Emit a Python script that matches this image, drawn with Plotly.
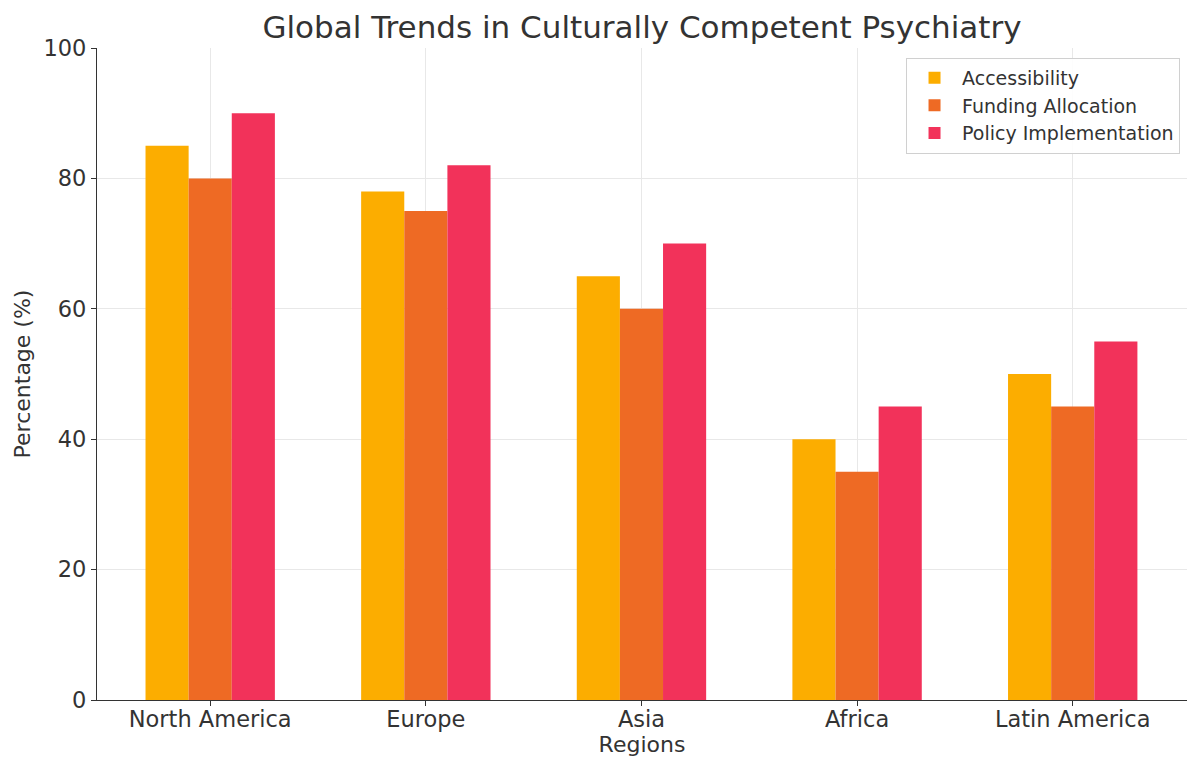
import plotly.graph_objects as go

regions = ["North America", "Europe", "Asia", "Africa", "Latin America"]
accessibility = [85, 78, 65, 40, 50]
funding = [80, 75, 60, 35, 45]
policy = [90, 82, 70, 45, 55]

series_names = ["Accessibility", "Funding Allocation", "Policy Implementation"]
colors = ["#FCAD00", "#EE6A24", "#F2325A"]

fig = go.Figure()
for name, vals, col in zip(series_names, [accessibility, funding, policy], colors):
    fig.add_trace(go.Bar(x=regions, y=vals, name=name, marker=dict(color=col, line=dict(width=0))))

font = "DejaVu Sans, sans-serif"
fig.update_layout(
    width=1187, height=763,
    margin=dict(l=97, r=0, t=48, b=63),
    paper_bgcolor="white", plot_bgcolor="white",
    barmode="group", bargap=0.4, bargroupgap=0,
    font=dict(family=font, color="#333333", size=22),
    title=dict(text="Global Trends in Culturally Competent Psychiatry", x=0.5, xanchor="center",
               xref="paper", y=1 - 27 / 763, yref="container", yanchor="middle",
               font=dict(size=31, color="#333333")),
    legend=dict(x=0.9936, y=0.985, xanchor="right", yanchor="top", bgcolor="rgba(255,255,255,0.9)",
                bordercolor="#d0d0d0", borderwidth=1, font=dict(size=19, color="#333333"),
                itemwidth=45, tracegroupgap=0),
    xaxis=dict(type="category", range=[-0.525, 4.53], showgrid=True, gridcolor="#e8e8e8", gridwidth=1,
               showline=True, linecolor="#333333", linewidth=1.2, ticks="outside", ticklen=5,
               tickcolor="#333333", tickfont=dict(size=22.5), ticklabelstandoff=-6,
               title=dict(text="Regions", font=dict(size=22), standoff=4)),
    yaxis=dict(range=[0, 100], tickvals=[0, 20, 40, 60, 80, 100], showgrid=True, gridcolor="#e8e8e8",
               gridwidth=1, zeroline=False, showline=True, linecolor="#333333", linewidth=1.2,
               ticks="outside", ticklen=5, tickcolor="#333333", tickfont=dict(size=22.5),
               title=dict(text="Percentage (%)", font=dict(size=22), standoff=6)),
)

fig.write_html("out.html")
